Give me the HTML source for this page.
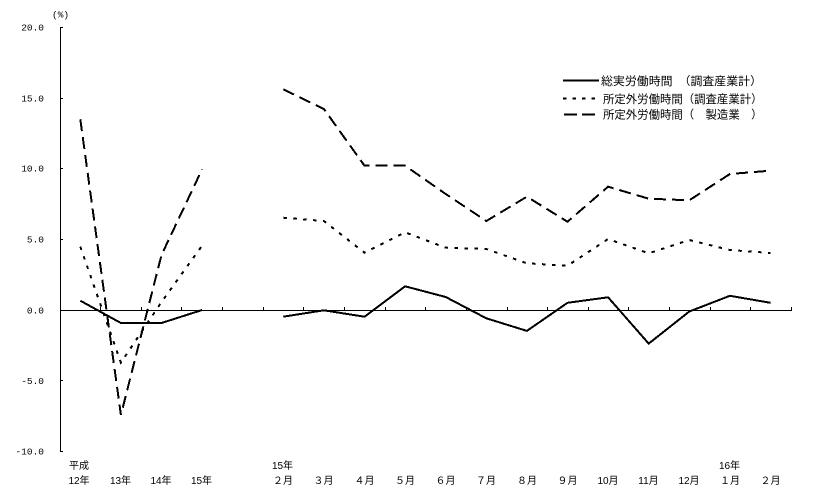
<!DOCTYPE html>
<html>
<head>
<meta charset="utf-8">
<style>
html,body{margin:0;padding:0;background:#fff;}
svg{display:block;}
.ax{font-family:"Liberation Mono",monospace;font-size:9.5px;fill:#000;}
.xl{font-family:"Liberation Sans","Noto Sans CJK JP",sans-serif;font-size:10px;fill:#000;}
.lg{font-family:"Liberation Sans","Noto Sans CJK JP",sans-serif;font-size:11.5px;fill:#000;}
</style>
</head>
<body>
<svg width="813" height="501" viewBox="0 0 813 501" xmlns="http://www.w3.org/2000/svg">
<rect width="813" height="501" fill="#fff"/>
<g shape-rendering="crispEdges" stroke="#000" stroke-width="1" fill="none">
  <!-- y axis -->
  <line x1="60.5" y1="27" x2="60.5" y2="452"/>
  <!-- y ticks -->
  <line x1="60" y1="27.5" x2="63" y2="27.5"/>
  <line x1="60" y1="98.5" x2="63" y2="98.5"/>
  <line x1="60" y1="168.5" x2="63" y2="168.5"/>
  <line x1="60" y1="239.5" x2="63" y2="239.5"/>
  <line x1="60" y1="380.5" x2="63" y2="380.5"/>
  <line x1="60" y1="451.5" x2="63" y2="451.5"/>
  <!-- x axis -->
  <line x1="60" y1="310.5" x2="792" y2="310.5"/>
  <!-- x ticks -->
  <path d="M100.5 307V310 M141.5 307V310 M181.5 307V310 M222.5 307V310 M263.5 307V310 M303.5 307V310 M344.5 307V310 M385.5 307V310 M425.5 307V310 M466.5 307V310 M507.5 307V310 M547.5 307V310 M588.5 307V310 M628.5 307V310 M669.5 307V310 M710.5 307V310 M750.5 307V310 M791.5 307V310"/>
</g>

<!-- y labels -->
<g class="ax" text-anchor="end">
  <text x="44" y="30.5">20.0</text>
  <text x="44" y="101.5">15.0</text>
  <text x="44" y="171.5">10.0</text>
  <text x="44" y="242.5">5.0</text>
  <text x="44" y="313.5">0.0</text>
  <text x="44" y="384">-5.0</text>
  <text x="44" y="454.5">-10.0</text>
</g>
<text class="ax" x="52" y="17.5">(%)</text>

<!-- x labels -->
<g class="xl" text-anchor="middle">
  <text x="79" y="469">平成</text>
  <text x="79" y="484">12年</text>
  <text x="120.5" y="484">13年</text>
  <text x="161" y="484">14年</text>
  <text x="201.5" y="484">15年</text>
  <text x="282.5" y="469">15年</text>
  <text x="283" y="484">２月</text>
  <text x="323.5" y="484">３月</text>
  <text x="364.5" y="484">４月</text>
  <text x="405" y="484">５月</text>
  <text x="445.5" y="484">６月</text>
  <text x="486" y="484">７月</text>
  <text x="527" y="484">８月</text>
  <text x="567.5" y="484">９月</text>
  <text x="608" y="484">10月</text>
  <text x="648.5" y="484">11月</text>
  <text x="689" y="484">12月</text>
  <text x="729.5" y="469">16年</text>
  <text x="730" y="484">１月</text>
  <text x="770.5" y="484">２月</text>
</g>

<g fill="none" stroke="#000" stroke-width="2" shape-rendering="crispEdges" stroke-linejoin="miter">
  <!-- solid: 総実労働時間 -->
  <polyline points="80.3,300.7 120.9,323 161.5,323 202.1,310"/>
  <polyline points="283.3,316.7 323.9,310.3 364.5,316.7 405.1,286.3 445.7,297 486.3,318.3 526.9,330.9 567.5,302.8 608.1,297.3 648.7,343.6 689.3,311.5 729.9,295.8 770.5,302.8"/>
  <!-- dotted: 所定外労働時間（調査産業計） -->
  <g stroke-dasharray="3.5 6.5">
    <polyline points="80.3,246.7 120.9,362.7 161.5,302 202.1,245.7"/>
    <polyline points="283.3,217.7 323.9,221 364.5,252.7 405.1,232.3 445.7,247.7 486.3,249 526.9,263.3 567.5,265.7 608.1,239 648.7,253.3 689.3,240 729.9,250 770.5,253"/>
  </g>
  <!-- dashed: 所定外労働時間（製造業） -->
  <g stroke-dasharray="12 6">
    <polyline points="80.3,119.3 120.9,415 161.5,255 202.1,169.3"/>
    <polyline points="283.3,89.3 323.9,109 364.5,165.7 405.1,165.7 445.7,194 486.3,221 526.9,196.7 567.5,221.7 608.1,186.7 648.7,198.7 689.3,200.3 729.9,174 770.5,170.7"/>
  </g>
</g>

<!-- legend -->
<g stroke="#000" stroke-width="2" shape-rendering="crispEdges" fill="none">
  <line x1="563" y1="80.5" x2="599" y2="80.5"/>
  <line x1="563" y1="98.5" x2="597" y2="98.5" stroke-dasharray="3.5 6"/>
  <line x1="564" y1="114.5" x2="597" y2="114.5" stroke-dasharray="13 5"/>
</g>
<g class="lg">
  <text x="601" y="85" textLength="161" lengthAdjust="spacingAndGlyphs">総実労働時間　（調査産業計）</text>
  <text x="603" y="102.8" textLength="159.5" lengthAdjust="spacingAndGlyphs">所定外労働時間（調査産業計）</text>
  <text x="603" y="118.5" textLength="159.5" lengthAdjust="spacingAndGlyphs">所定外労働時間（　製造業　）</text>
</g>
</svg>
</body>
</html>
